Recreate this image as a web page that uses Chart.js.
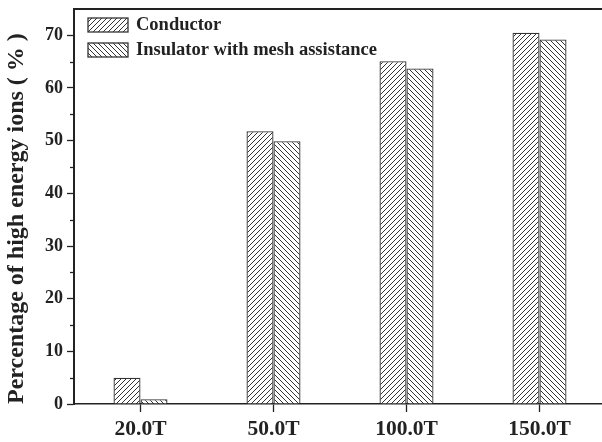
<!DOCTYPE html>
<html>
<head>
<meta charset="utf-8">
<script src="https://cdn.jsdelivr.net/npm/chart.js@4/dist/chart.umd.min.js"></script>
<style>
  html, body { margin: 0; padding: 0; background: #fff; overflow: hidden; }
  #wrap { width: 612px; height: 442px; position: relative; }
</style>
</head>
<body>
<div id="wrap"><canvas id="barChart"></canvas></div>
<script>
const categories = ['20.0T', '50.0T', '100.0T', '150.0T'];
const conductor = [5.0, 51.8, 65.1, 70.5];
const insulator = [0.9, 49.9, 63.7, 69.2];
const yMajorTicks = [0, 10, 20, 30, 40, 50, 60, 70];
const yMinorTicks = [5, 15, 25, 35, 45, 55, 65];
const seriesNames = ['Conductor', 'Insulator with mesh assistance'];

const FONT = '"Liberation Serif", "Times New Roman", serif';
const INK = '#222';

function hatch(dir) {
    const c = document.createElement('canvas');
    const s = 5;
    c.width = s; c.height = s;
    const g = c.getContext('2d');
    g.fillStyle = '#fff';
    g.fillRect(0, 0, s, s);
    g.strokeStyle = '#333';
    g.lineWidth = 1;
    g.beginPath();
    if (dir === '/') {
        g.moveTo(-1, s + 1); g.lineTo(s + 1, -1);
        g.moveTo(-1, 1); g.lineTo(1, -1);
        g.moveTo(s - 1, s + 1); g.lineTo(s + 1, s - 1);
    } else {
        g.moveTo(-1, -1); g.lineTo(s + 1, s + 1);
        g.moveTo(s - 1, -1); g.lineTo(s + 1, 1);
        g.moveTo(-1, s - 1); g.lineTo(1, s + 1);
    }
    g.stroke();
    return g.createPattern(c, 'repeat');
}

const ctx = document.getElementById('barChart').getContext('2d');
const patA = hatch('/');
const patB = hatch('\\');

// top frame line, minor y ticks and the boxed legend
const extras = {
    id: 'extras',
    afterDraw(chart) {
        const c = chart.ctx;
        const a = chart.chartArea;
        const y = chart.scales.y;
        c.save();
        c.strokeStyle = INK;
        c.lineWidth = 2;
        c.beginPath();
        c.moveTo(a.left, a.top);
        c.lineTo(a.right, a.top);
        c.stroke();

        c.lineWidth = 1.3;
        yMinorTicks.forEach(v => {
            const py = Math.round(y.getPixelForValue(v)) + 0.5;
            c.beginPath();
            c.moveTo(a.left - 4, py);
            c.lineTo(a.left, py);
            c.stroke();
        });

        chart.data.datasets.forEach((ds, i) => {
            const bx = a.left + 14, by = a.top + 9 + i * 25;
            c.fillStyle = ds.backgroundColor;
            c.fillRect(bx, by, 40, 14);
            c.strokeStyle = '#333';
            c.lineWidth = 1.3;
            c.strokeRect(bx, by, 40, 14);
            c.fillStyle = INK;
            c.font = 'bold 18.5px ' + FONT;
            c.textBaseline = 'middle';
            c.textAlign = 'left';
            c.fillText(ds.label, bx + 48, by + 7);
        });
        c.restore();
    }
};

new Chart(ctx, {
    type: 'bar',
    data: {
        labels: categories,
        datasets: [
            { label: seriesNames[0], data: conductor, backgroundColor: patA, borderColor: '#333', borderWidth: 1.3 },
            { label: seriesNames[1], data: insulator, backgroundColor: patB, borderColor: '#333', borderWidth: 1.3 }
        ]
    },
    options: {
        animation: false,
        responsive: true,
        maintainAspectRatio: false,
        layout: { padding: { top: 9, right: 6, left: 0, bottom: 0 } },
        datasets: {
            bar: { categoryPercentage: 0.406, barPercentage: 1.0 }
        },
        scales: {
            x: {
                grid: { display: true, drawOnChartArea: false, offset: false, tickLength: 8, tickColor: INK, tickWidth: 1.3 },
                border: { display: true, color: INK, width: 1.5 },
                ticks: { color: INK, font: { family: FONT, size: 21.5, weight: 'bold' }, padding: 5, maxRotation: 0 },
                afterFit: s => { s.height = 38; s.paddingLeft = 0; s.paddingRight = 0; }
            },
            y: {
                min: 0,
                max: 75,
                grid: { display: true, drawOnChartArea: false, tickLength: 7, tickColor: INK, tickWidth: 1.3 },
                border: { display: true, color: INK, width: 2 },
                ticks: { color: INK, font: { family: FONT, size: 18, weight: 'bold' }, padding: 4 },
                afterBuildTicks: s => { s.ticks = yMajorTicks.map(v => ({ value: v })); },
                afterFit: s => { s.width = 74; s.paddingTop = 0; s.paddingBottom = 0; },
                title: {
                    display: true,
                    text: 'Percentage of high energy ions ( % )',
                    align: 'start',
                    color: INK,
                    font: { family: FONT, size: 24, weight: 'bold' },
                    padding: { top: 2, bottom: 0 }
                }
            }
        },
        plugins: {
            legend: { display: false },
            tooltip: { enabled: false }
        }
    },
    plugins: [extras]
});
</script>
</body>
</html>
